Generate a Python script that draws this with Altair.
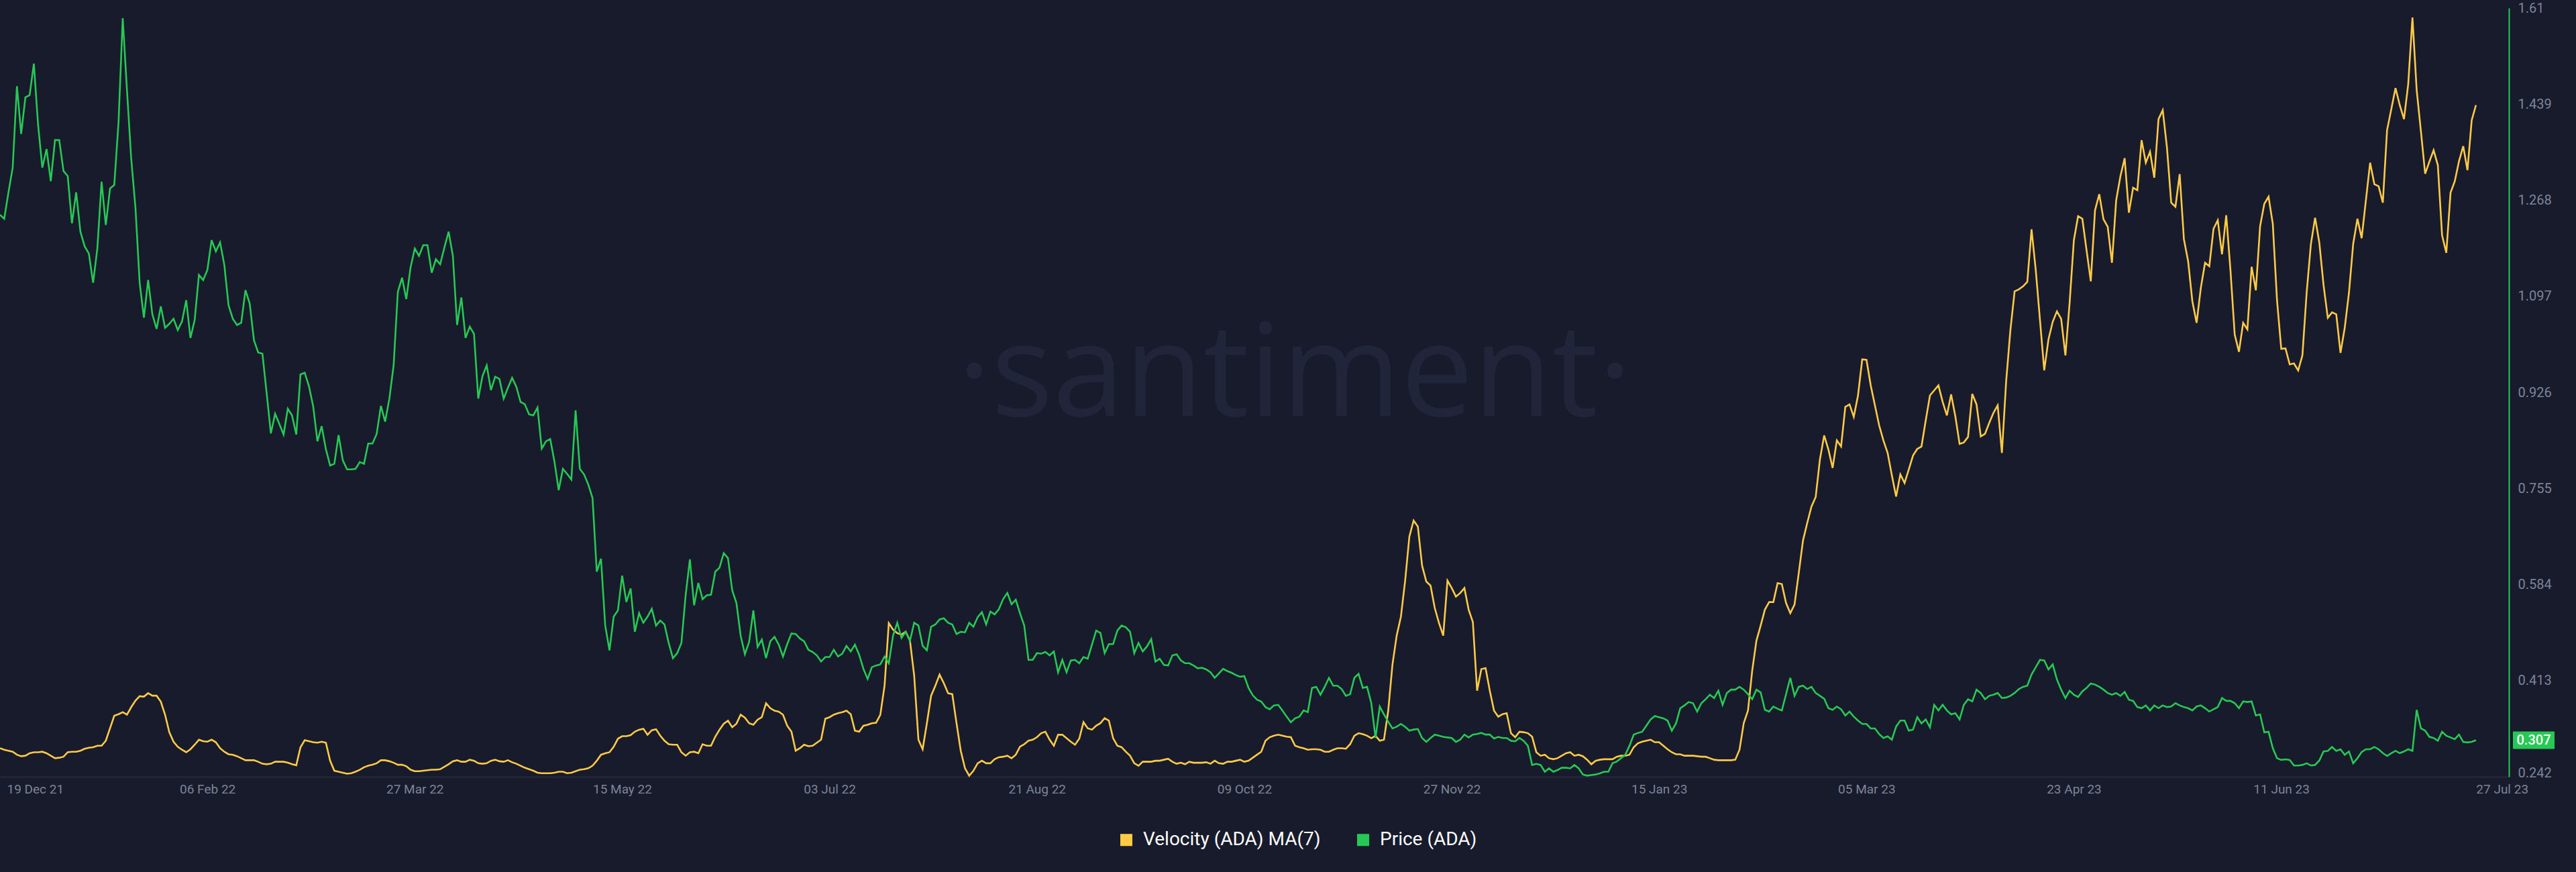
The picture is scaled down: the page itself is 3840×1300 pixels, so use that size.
import altair as alt
import pandas as pd

START_DATE = "2021-12-19"

PRICE_ADA = [
    1.242, 1.235, 1.282, 1.326, 1.471, 1.386, 1.451, 1.455, 1.511, 1.402,
    1.326, 1.359, 1.302, 1.375, 1.375, 1.320, 1.311, 1.227, 1.282, 1.212,
    1.186, 1.173, 1.121, 1.182, 1.301, 1.224, 1.289, 1.295, 1.406, 1.592,
    1.464, 1.342, 1.255, 1.121, 1.059, 1.126, 1.065, 1.039, 1.079, 1.041,
    1.048, 1.057, 1.037, 1.052, 1.090, 1.023, 1.055, 1.135, 1.126, 1.144,
    1.197, 1.177, 1.193, 1.153, 1.081, 1.057, 1.046, 1.050, 1.108, 1.084,
    1.019, 0.997, 0.995, 0.925, 0.853, 0.888, 0.870, 0.851, 0.897, 0.885,
    0.851, 0.958, 0.961, 0.937, 0.901, 0.839, 0.866, 0.825, 0.796, 0.799,
    0.850, 0.805, 0.789, 0.789, 0.790, 0.802, 0.799, 0.835, 0.835, 0.852,
    0.902, 0.874, 0.915, 0.974, 1.105, 1.130, 1.092, 1.148, 1.182, 1.169,
    1.188, 1.188, 1.139, 1.163, 1.154, 1.184, 1.212, 1.169, 1.046, 1.095,
    1.023, 1.043, 1.030, 0.915, 0.955, 0.974, 0.930, 0.954, 0.950, 0.915,
    0.934, 0.952, 0.936, 0.909, 0.905, 0.887, 0.885, 0.899, 0.826, 0.839,
    0.843, 0.803, 0.752, 0.790, 0.781, 0.771, 0.894, 0.790, 0.780, 0.762,
    0.738, 0.607, 0.630, 0.511, 0.467, 0.527, 0.538, 0.600, 0.553, 0.577,
    0.500, 0.533, 0.516, 0.527, 0.541, 0.511, 0.520, 0.513, 0.480, 0.453,
    0.462, 0.480, 0.565, 0.629, 0.547, 0.587, 0.558, 0.565, 0.566, 0.607,
    0.614, 0.640, 0.631, 0.574, 0.551, 0.493, 0.460, 0.482, 0.538, 0.473,
    0.486, 0.453, 0.483, 0.491, 0.477, 0.456, 0.478, 0.497, 0.496, 0.488,
    0.483, 0.468, 0.464, 0.458, 0.447, 0.455, 0.455, 0.468, 0.456, 0.461,
    0.475, 0.465, 0.477, 0.459, 0.434, 0.416, 0.437, 0.440, 0.442, 0.456,
    0.444, 0.493, 0.516, 0.489, 0.500, 0.484, 0.516, 0.511, 0.475, 0.467,
    0.509, 0.513, 0.522, 0.524, 0.516, 0.513, 0.496, 0.500, 0.499, 0.516,
    0.509, 0.526, 0.535, 0.513, 0.536, 0.531, 0.540, 0.558, 0.569, 0.549,
    0.557, 0.533, 0.511, 0.450, 0.450, 0.462, 0.461, 0.464, 0.458, 0.465,
    0.428, 0.450, 0.428, 0.449, 0.450, 0.444, 0.455, 0.452, 0.477, 0.502,
    0.498, 0.462, 0.478, 0.478, 0.502, 0.511, 0.508, 0.500, 0.462, 0.480,
    0.465, 0.474, 0.487, 0.447, 0.452, 0.441, 0.440, 0.458, 0.460, 0.449,
    0.444, 0.444, 0.440, 0.435, 0.436, 0.433, 0.428, 0.418, 0.426, 0.434,
    0.430, 0.427, 0.423, 0.420, 0.421, 0.400, 0.387, 0.379, 0.376, 0.366,
    0.362, 0.369, 0.370, 0.360, 0.349, 0.339, 0.346, 0.349, 0.360, 0.357,
    0.400, 0.402, 0.388, 0.402, 0.418, 0.404, 0.404, 0.398, 0.386, 0.389,
    0.418, 0.425, 0.400, 0.402, 0.373, 0.311, 0.367, 0.353, 0.340, 0.328,
    0.331, 0.336, 0.331, 0.324, 0.326, 0.327, 0.311, 0.304, 0.311, 0.317,
    0.315, 0.313, 0.312, 0.311, 0.304, 0.308, 0.317, 0.312, 0.317, 0.318,
    0.320, 0.317, 0.317, 0.310, 0.313, 0.311, 0.311, 0.306, 0.305, 0.311,
    0.306, 0.297, 0.263, 0.265, 0.263, 0.251, 0.257, 0.251, 0.254, 0.258,
    0.258, 0.257, 0.263, 0.257, 0.246, 0.244, 0.245, 0.246, 0.248, 0.251,
    0.251, 0.266, 0.269, 0.275, 0.281, 0.297, 0.317, 0.320, 0.322, 0.333,
    0.344, 0.350, 0.348, 0.346, 0.342, 0.324, 0.337, 0.364, 0.369, 0.375,
    0.373, 0.358, 0.373, 0.380, 0.388, 0.382, 0.395, 0.370, 0.391, 0.397,
    0.397, 0.402, 0.397, 0.389, 0.380, 0.397, 0.392, 0.361, 0.358, 0.367,
    0.363, 0.360, 0.389, 0.418, 0.386, 0.402, 0.404, 0.398, 0.402, 0.391,
    0.386, 0.381, 0.364, 0.361, 0.367, 0.362, 0.351, 0.358, 0.349, 0.342,
    0.336, 0.336, 0.328, 0.328, 0.318, 0.311, 0.314, 0.308, 0.331, 0.342,
    0.342, 0.324, 0.326, 0.348, 0.337, 0.344, 0.330, 0.370, 0.360, 0.370,
    0.360, 0.353, 0.355, 0.344, 0.370, 0.380, 0.376, 0.397, 0.391, 0.380,
    0.386, 0.388, 0.391, 0.382, 0.383, 0.386, 0.391, 0.398, 0.402, 0.404,
    0.424, 0.437, 0.450, 0.449, 0.433, 0.442, 0.415, 0.397, 0.382, 0.395,
    0.388, 0.384, 0.394, 0.400, 0.408, 0.406, 0.402, 0.397, 0.391, 0.388,
    0.391, 0.386, 0.393, 0.379, 0.377, 0.366, 0.364, 0.369, 0.360, 0.369,
    0.364, 0.369, 0.366, 0.367, 0.373, 0.369, 0.366, 0.364, 0.360, 0.367,
    0.369, 0.364, 0.358, 0.362, 0.366, 0.382, 0.377, 0.377, 0.373, 0.364,
    0.376, 0.375, 0.376, 0.351, 0.353, 0.321, 0.322, 0.293, 0.275, 0.272,
    0.273, 0.272, 0.262, 0.262, 0.263, 0.266, 0.262, 0.263, 0.271, 0.287,
    0.288, 0.295, 0.288, 0.291, 0.281, 0.287, 0.266, 0.275, 0.286, 0.291,
    0.291, 0.295, 0.291, 0.284, 0.279, 0.284, 0.288, 0.284, 0.287, 0.291,
    0.288, 0.361, 0.328, 0.324, 0.313, 0.311, 0.306, 0.322, 0.315, 0.312,
    0.309, 0.317, 0.304, 0.303, 0.304, 0.307,
]

VELOCITY_ADA_MA7 = [
    0.057, 0.054, 0.052, 0.050, 0.044, 0.041, 0.042, 0.047, 0.049, 0.049,
    0.050, 0.047, 0.042, 0.037, 0.038, 0.040, 0.049, 0.050, 0.050, 0.052,
    0.056, 0.058, 0.059, 0.062, 0.062, 0.072, 0.097, 0.122, 0.125, 0.129,
    0.124, 0.139, 0.152, 0.161, 0.160, 0.167, 0.162, 0.162, 0.150, 0.124,
    0.089, 0.070, 0.060, 0.054, 0.049, 0.055, 0.064, 0.074, 0.071, 0.070,
    0.074, 0.069, 0.057, 0.050, 0.045, 0.044, 0.041, 0.037, 0.033, 0.033,
    0.033, 0.030, 0.026, 0.025, 0.026, 0.030, 0.030, 0.030, 0.028, 0.025,
    0.023, 0.059, 0.073, 0.071, 0.069, 0.068, 0.070, 0.068, 0.032, 0.012,
    0.010, 0.008, 0.006, 0.007, 0.010, 0.014, 0.019, 0.022, 0.024, 0.027,
    0.033, 0.033, 0.031, 0.028, 0.024, 0.024, 0.021, 0.014, 0.011, 0.011,
    0.012, 0.013, 0.014, 0.014, 0.015, 0.020, 0.025, 0.031, 0.033, 0.030,
    0.030, 0.034, 0.032, 0.027, 0.026, 0.027, 0.032, 0.034, 0.031, 0.030,
    0.033, 0.029, 0.026, 0.022, 0.018, 0.015, 0.012, 0.008, 0.007, 0.007,
    0.007, 0.008, 0.010, 0.010, 0.007, 0.008, 0.011, 0.014, 0.015, 0.017,
    0.022, 0.032, 0.044, 0.047, 0.049, 0.060, 0.076, 0.081, 0.081, 0.083,
    0.090, 0.094, 0.096, 0.084, 0.093, 0.095, 0.082, 0.072, 0.065, 0.064,
    0.064, 0.049, 0.042, 0.049, 0.050, 0.047, 0.065, 0.062, 0.062, 0.080,
    0.094, 0.106, 0.112, 0.099, 0.106, 0.124, 0.118, 0.107, 0.104, 0.114,
    0.119, 0.147, 0.137, 0.132, 0.130, 0.124, 0.102, 0.090, 0.052, 0.057,
    0.064, 0.061, 0.062, 0.068, 0.074, 0.116, 0.119, 0.124, 0.127, 0.129,
    0.132, 0.125, 0.092, 0.090, 0.102, 0.104, 0.107, 0.108, 0.124, 0.182,
    0.307, 0.294, 0.287, 0.284, 0.290, 0.272, 0.202, 0.074, 0.055, 0.107,
    0.162, 0.182, 0.204, 0.187, 0.167, 0.165, 0.107, 0.052, 0.017, 0.002,
    0.012, 0.027, 0.032, 0.027, 0.027, 0.035, 0.039, 0.040, 0.042, 0.037,
    0.044, 0.060, 0.065, 0.072, 0.074, 0.079, 0.087, 0.090, 0.074, 0.062,
    0.084, 0.084, 0.077, 0.070, 0.064, 0.076, 0.109, 0.097, 0.094, 0.102,
    0.107, 0.117, 0.112, 0.077, 0.062, 0.059, 0.050, 0.042, 0.027, 0.022,
    0.030, 0.030, 0.030, 0.032, 0.032, 0.034, 0.036, 0.030, 0.026, 0.028,
    0.025, 0.030, 0.028, 0.028, 0.028, 0.029, 0.026, 0.032, 0.027, 0.026,
    0.030, 0.030, 0.032, 0.034, 0.030, 0.032, 0.038, 0.044, 0.050, 0.072,
    0.079, 0.082, 0.084, 0.082, 0.080, 0.079, 0.062, 0.059, 0.057, 0.054,
    0.055, 0.055, 0.054, 0.050, 0.050, 0.054, 0.057, 0.057, 0.056, 0.065,
    0.082, 0.087, 0.085, 0.082, 0.077, 0.082, 0.072, 0.074, 0.132, 0.224,
    0.282, 0.320, 0.392, 0.480, 0.512, 0.500, 0.422, 0.390, 0.382, 0.337,
    0.307, 0.282, 0.392, 0.377, 0.360, 0.367, 0.377, 0.334, 0.309, 0.172,
    0.215, 0.217, 0.172, 0.132, 0.120, 0.125, 0.127, 0.087, 0.079, 0.090,
    0.089, 0.087, 0.080, 0.049, 0.042, 0.044, 0.037, 0.035, 0.037, 0.042,
    0.047, 0.049, 0.042, 0.044, 0.041, 0.034, 0.025, 0.032, 0.034, 0.035,
    0.035, 0.035, 0.040, 0.042, 0.042, 0.044, 0.059, 0.067, 0.070, 0.072,
    0.074, 0.069, 0.069, 0.062, 0.055, 0.049, 0.045, 0.045, 0.042, 0.042,
    0.042, 0.041, 0.040, 0.040, 0.037, 0.034, 0.033, 0.033, 0.033, 0.033,
    0.034, 0.054, 0.107, 0.132, 0.212, 0.272, 0.302, 0.334, 0.349, 0.349,
    0.387, 0.385, 0.347, 0.327, 0.344, 0.407, 0.472, 0.507, 0.540, 0.559,
    0.634, 0.682, 0.654, 0.617, 0.672, 0.660, 0.739, 0.744, 0.719, 0.762,
    0.834, 0.833, 0.782, 0.742, 0.702, 0.672, 0.647, 0.602, 0.560, 0.604,
    0.587, 0.614, 0.642, 0.655, 0.660, 0.712, 0.762, 0.772, 0.782, 0.749,
    0.722, 0.764, 0.720, 0.665, 0.668, 0.679, 0.765, 0.744, 0.680, 0.685,
    0.707, 0.727, 0.742, 0.647, 0.790, 0.892, 0.970, 0.974, 0.980, 0.989,
    1.094, 1.012, 0.912, 0.812, 0.874, 0.909, 0.930, 0.915, 0.842, 0.947,
    1.072, 1.120, 1.115, 1.052, 0.990, 1.132, 1.164, 1.114, 1.099, 1.027,
    1.152, 1.200, 1.236, 1.127, 1.177, 1.172, 1.272, 1.227, 1.249, 1.197,
    1.314, 1.332, 1.257, 1.147, 1.139, 1.204, 1.074, 1.030, 0.950, 0.907,
    0.977, 1.027, 1.020, 1.095, 1.112, 1.044, 1.122, 1.012, 0.884, 0.849,
    0.907, 0.894, 1.019, 0.972, 1.100, 1.145, 1.159, 1.105, 0.952, 0.855,
    0.856, 0.824, 0.826, 0.812, 0.842, 0.967, 1.064, 1.117, 1.067, 0.982,
    0.917, 0.928, 0.924, 0.847, 0.897, 0.967, 1.065, 1.115, 1.076, 1.152,
    1.227, 1.184, 1.180, 1.147, 1.292, 1.334, 1.376, 1.342, 1.314, 1.384,
    1.517, 1.372, 1.290, 1.205, 1.229, 1.252, 1.222, 1.082, 1.047, 1.167,
    1.190, 1.230, 1.260, 1.212, 1.312, 1.342,
]

X_TICK_DATES = [
    (2021, 12, 19), (2022, 2, 6), (2022, 3, 27), (2022, 5, 15), (2022, 7, 3),
    (2022, 8, 21), (2022, 10, 9), (2022, 11, 27), (2023, 1, 15), (2023, 3, 5),
    (2023, 4, 23), (2023, 6, 11), (2023, 7, 27),
]
PRICE_TICKS = [0.242, 0.413, 0.584, 0.755, 0.926, 1.097, 1.268, 1.439, 1.61]
PRICE_DOMAIN = [0.242, 1.61]
VELOCITY_DOMAIN = [0.0, 1.536]
SERIES = ["Velocity (ADA) MA(7)", "Price (ADA)"]
COLORS = ["#ffcb47", "#26c953"]
WATERMARK = "\u00b7santiment\u00b7"

BG = "#181b2b"
LABEL_GRAY = "#7d8499"
FONT = "Roboto"

W, H = 3740, 1146

dates = pd.date_range(START_DATE, periods=len(PRICE_ADA), freq="D").strftime("%Y-%m-%d")
df = pd.DataFrame({"date": dates, "price": PRICE_ADA, "velocity": VELOCITY_ADA_MA7})
vel_df = df.assign(series=SERIES[0])
price_df = df.assign(series=SERIES[1])
last_df = price_df.tail(1).copy()
last_df["label"] = last_df["price"].map(lambda v: f"{v:.3f}")
wm_df = pd.DataFrame({"t": [WATERMARK]})

tick_values = [alt.DateTime(year=y, month=m, date=d, utc=True) for (y, m, d) in X_TICK_DATES]
x_scale = alt.Scale(
    type="utc",
    domain=[alt.DateTime(year=2021, month=12, date=19, utc=True),
            alt.DateTime(year=2023, month=8, date=3, hours=19, utc=True)],
)
edge_test = "datum.value < 1640000000000 || datum.value > 1690000000000"
x_axis = alt.Axis(
    values=tick_values,
    labelExpr="utcFormat(datum.value, '%d %b %y')",
    labelAlign={"condition": {"test": edge_test, "value": "left"}, "value": "center"},
    labelOffset={"condition": {"test": "datum.value < 1640000000000", "value": 10}, "value": 0},
    labelFont=FONT, labelFontSize=19, labelColor=LABEL_GRAY, labelPadding=9,
    ticks=False, grid=False, domainColor="#262a3a", domainWidth=2,
    labelOverlap=False, labelFlush=False, labelBound=False, title=None,
)
x_enc = alt.X("date:T", scale=x_scale, axis=x_axis)

price_scale = alt.Scale(domain=PRICE_DOMAIN, nice=False, zero=False)
price_axis = alt.Axis(
    orient="right", values=PRICE_TICKS,
    labelExpr="toString(round(datum.value * 1000) / 1000)",
    labelFont=FONT, labelFontSize=20, labelColor=LABEL_GRAY, labelPadding=13,
    labelBaseline={"condition": {"test": "datum.value < 0.25", "value": "alphabetic"}, "value": "middle"},
    ticks=False, grid=False, domainColor=COLORS[1], domainWidth=2,
    labelOverlap=False, labelFlush=False, labelBound=False, title=None,
)

legend = alt.Legend(
    orient="none", legendX=1665, legendY=1226, direction="horizontal", title=None,
    symbolType="square", symbolSize=81, symbolStrokeWidth=9,
    labelFont=FONT, labelFontSize=28, labelColor="#ffffff", labelOffset=11,
    labelLimit=0, columnPadding=40, padding=0,
)
color_enc = alt.Color("series:N", scale=alt.Scale(domain=SERIES, range=COLORS), legend=legend)

watermark = alt.Chart(wm_df).mark_text(
    font="Open Sans", fontSize=192, color="#21253a",
    align="center", baseline="alphabetic",
).encode(x=alt.value(1930), y=alt.value(608), text="t:N")

vel_line = alt.Chart(vel_df).mark_line(strokeWidth=2.6).encode(
    x=x_enc,
    y=alt.Y("velocity:Q", scale=alt.Scale(domain=VELOCITY_DOMAIN, nice=False, zero=False), axis=None),
    color=color_enc,
)

price_line = alt.Chart(price_df).mark_line(strokeWidth=2.6).encode(
    x=x_enc,
    y=alt.Y("price:Q", scale=price_scale, axis=price_axis),
    color=color_enc,
)
badge = alt.Chart(last_df).mark_tick(
    orient="horizontal", size=62, thickness=26, color=COLORS[1], opacity=1
).encode(x=alt.value(3777), y=alt.Y("price:Q", scale=price_scale, axis=price_axis))
badge_text = alt.Chart(last_df).mark_text(
    font=FONT, fontSize=20, fontWeight=500, color="#ffffff", align="center", baseline="middle"
).encode(x=alt.value(3777), y=alt.Y("price:Q", scale=price_scale, axis=price_axis), text="label:N")

price_group = alt.layer(price_line, badge, badge_text)

chart = alt.layer(watermark, vel_line, price_group).resolve_scale(y="independent").properties(
    width=W, height=H, background=BG,
    padding={"left": 0, "top": 12, "right": 100, "bottom": 142},
    autosize=alt.AutoSizeParams(type="none"),
).configure_view(stroke=None)

chart.save("out.html", embed_options={"renderer": "svg", "actions": False})
